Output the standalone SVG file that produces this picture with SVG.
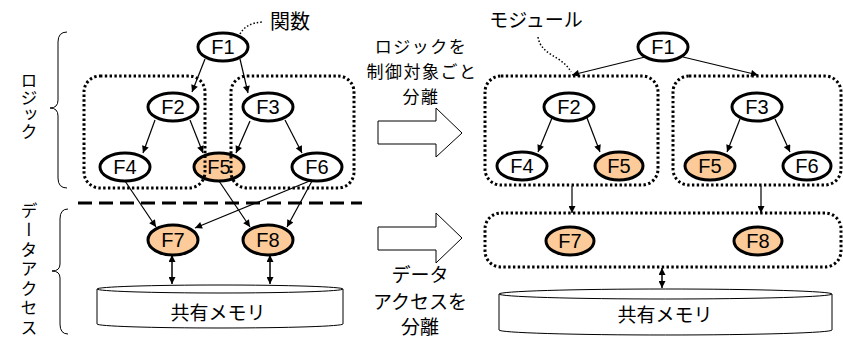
<svg xmlns="http://www.w3.org/2000/svg" width="843" height="339" viewBox="0 0 843 339">
<style>
.fn ellipse{fill:#fff;stroke:#000;stroke-width:3}
.fn.hot ellipse{fill:#FCCB99}
.fn text{font-family:"Liberation Sans",Arial,sans-serif;font-size:20px;text-anchor:middle;fill:#000}
.jp{font-family:"Noto Sans CJK JP","Liberation Sans",sans-serif;font-size:19px;text-anchor:middle;fill:#000}
.jps{font-family:"Noto Sans CJK JP","Liberation Sans",sans-serif;font-size:17px;letter-spacing:1.5px;text-anchor:middle;fill:#000}
.vt{font-family:"Noto Sans CJK JP","Liberation Sans",sans-serif;font-size:17px;fill:#000;writing-mode:vertical-rl}
.mod{fill:none;stroke:#000;stroke-width:3;stroke-dasharray:2.4 2.4}
.edge{stroke:#000;stroke-width:1.2;fill:none;marker-end:url(#ah)}
.dbl{stroke:#000;stroke-width:1.5;fill:none;marker-end:url(#ah);marker-start:url(#ah)}
.brace{fill:none;stroke:#000;stroke-width:1}
.cyl{fill:#fff;stroke:#000;stroke-width:1}
.big{fill:#fff;stroke:#000;stroke-width:1}
.note{fill:none;stroke:#000;stroke-width:1.5;stroke-dasharray:1.5 2}
</style>
<defs>
<marker id="ah" viewBox="0 0 10 10" refX="10" refY="5" markerWidth="8" markerHeight="7" orient="auto-start-reverse" markerUnits="userSpaceOnUse"><path d="M0,0 L10,5 L0,10 z" fill="#000"/></marker>
</defs>

<!-- left labels -->
<g id="brace-logic"><path class="brace" d="M67,32 Q58,32 58,42 L58,100 Q58,108 50,108 Q58,108 58,116 L58,178 Q58,188 67,188"/></g>
<g id="brace-data"><path class="brace" d="M68,209 Q60,209 60,219 L60,264 Q60,271 52,271 Q60,271 60,278 L60,324 Q60,334 68,334"/></g>
<g id="label-logic"><text class="vt" x="29" y="72">ロジック</text></g>
<g id="label-data"><text class="vt" x="29" y="202" style="letter-spacing:2.5px">データアクセス</text></g>
<g id="label-func"><text class="jp" x="290" y="29" style="font-size:20px">関数</text><path class="note" d="M240,34 Q246,23 262,22"/></g>

<!-- left diagram -->
<g id="L-F1" class="fn"><ellipse cx="223" cy="47" rx="25" ry="14"/><text x="223" y="54">F1</text></g>
<g id="L-F2" class="fn"><ellipse cx="173" cy="107" rx="25" ry="14"/><text x="173" y="114">F2</text></g>
<g id="L-F3" class="fn"><ellipse cx="268" cy="107" rx="25" ry="14"/><text x="268" y="114">F3</text></g>
<g id="L-F4" class="fn"><ellipse cx="125" cy="167" rx="25" ry="14"/><text x="125" y="174">F4</text></g>
<g id="L-F5" class="fn hot"><ellipse cx="219" cy="167" rx="25" ry="14"/><text x="219" y="174">F5</text></g>
<g id="L-F6" class="fn"><ellipse cx="317" cy="167" rx="25" ry="14"/><text x="317" y="174">F6</text></g>
<g id="L-F7" class="fn hot"><ellipse cx="173" cy="240" rx="25" ry="15"/><text x="173" y="247">F7</text></g>
<g id="L-F8" class="fn hot"><ellipse cx="268" cy="240" rx="25" ry="15"/><text x="268" y="247">F8</text></g>
<g id="L-mod1"><rect class="mod" x="84" y="76" width="121" height="112" rx="16"/></g>
<g id="L-mod2"><rect class="mod" x="231" y="76" width="123" height="112" rx="16"/></g>
<g id="L-shared"><path class="cyl" d="M97,289 L97,324 A123,4 0 0 0 343,324 L343,289"/><ellipse class="cyl" cx="220" cy="289" rx="123" ry="4"/><text class="jp" x="218" y="320">共有メモリ</text></g>
<g id="divider"><line x1="78" y1="203" x2="362" y2="203" stroke="#000" stroke-width="3" stroke-dasharray="14 7"/></g>

<!-- middle -->
<g id="arrow-logic"><polygon class="big" points="378,121 436,121 436,108 462,133 436,157 436,144 378,144"/>
<text class="jps" x="421" y="53">ロジックを</text><text class="jps" x="422" y="78">制御対象ごと</text><text class="jps" x="421" y="103">分離</text></g>
<g id="arrow-data"><polygon class="big" points="378,227 436,227 436,213 462,238 436,263 436,250 378,250"/>
<text class="jp" x="420" y="282">データ</text><text class="jp" x="420" y="309">アクセスを</text><text class="jp" x="420" y="334">分離</text></g>

<!-- right diagram -->
<g id="label-module"><text class="jp" x="536" y="27">モジュール</text><path class="note" d="M538,37 C541,56 562,55 571,72"/></g>
<g id="R-F1" class="fn"><ellipse cx="663" cy="47" rx="25" ry="14"/><text x="663" y="54">F1</text></g>
<g id="R-mod1"><rect class="mod" x="485" y="76" width="173" height="109" rx="16"/></g>
<g id="R-mod2"><rect class="mod" x="673" y="76" width="168" height="109" rx="16"/></g>
<g id="R-F2" class="fn"><ellipse cx="569" cy="107" rx="25" ry="14"/><text x="569" y="114">F2</text></g>
<g id="R-F4" class="fn"><ellipse cx="522" cy="166" rx="25" ry="14"/><text x="522" y="173">F4</text></g>
<g id="R-F5a" class="fn hot"><ellipse cx="619" cy="166" rx="24" ry="14"/><text x="619" y="173">F5</text></g>
<g id="R-F3" class="fn"><ellipse cx="757" cy="107" rx="25" ry="14"/><text x="757" y="114">F3</text></g>
<g id="R-F5b" class="fn hot"><ellipse cx="710" cy="166" rx="25" ry="14"/><text x="710" y="173">F5</text></g>
<g id="R-F6" class="fn"><ellipse cx="807" cy="166" rx="24" ry="14"/><text x="807" y="173">F6</text></g>
<g id="R-data"><rect class="mod" x="485" y="213" width="356" height="54" rx="16"/></g>
<g id="R-F7" class="fn hot"><ellipse cx="570" cy="241" rx="24" ry="14"/><text x="570" y="248">F7</text></g>
<g id="R-F8" class="fn hot"><ellipse cx="758" cy="241" rx="24" ry="14"/><text x="758" y="248">F8</text></g>
<g id="R-shared"><path class="cyl" d="M499,294 L499,330 A166.5,5 0 0 0 832,330 L832,294"/><ellipse class="cyl" cx="665.5" cy="294" rx="166.5" ry="5"/><text class="jp" x="665" y="322">共有メモリ</text></g>

<g id="connectors">
<path class="edge" d="M205,59 L192,92"/>
<path class="edge" d="M240,59 L248,93"/>
<path class="edge" d="M155,120 L143,153"/>
<path class="edge" d="M190,120 L203,153"/>
<path class="edge" d="M250,121 L236,153"/>
<path class="edge" d="M285,120 L302,153"/>
<path class="edge" d="M125,181 L156,227"/>
<path class="edge" d="M219,181 L250,227"/>
<path class="edge" d="M312,180 L195,228"/>
<path class="edge" d="M312,181 L287,227"/>
<path class="dbl" d="M172,255 L172,284"/>
<path class="dbl" d="M270,255 L270,284"/>
<path class="edge" d="M645,57 L572,75"/>
<path class="edge" d="M683,57 L758,75"/>
<path class="edge" d="M552,118 L538,152"/>
<path class="edge" d="M587,118 L600,152"/>
<path class="edge" d="M740,119 L727,152"/>
<path class="edge" d="M775,119 L790,152"/>
<path class="edge" d="M572,186 L572,213"/>
<path class="edge" d="M761,186 L761,213"/>
<path class="dbl" d="M662,268 L662,288"/>
</g>
</svg>
